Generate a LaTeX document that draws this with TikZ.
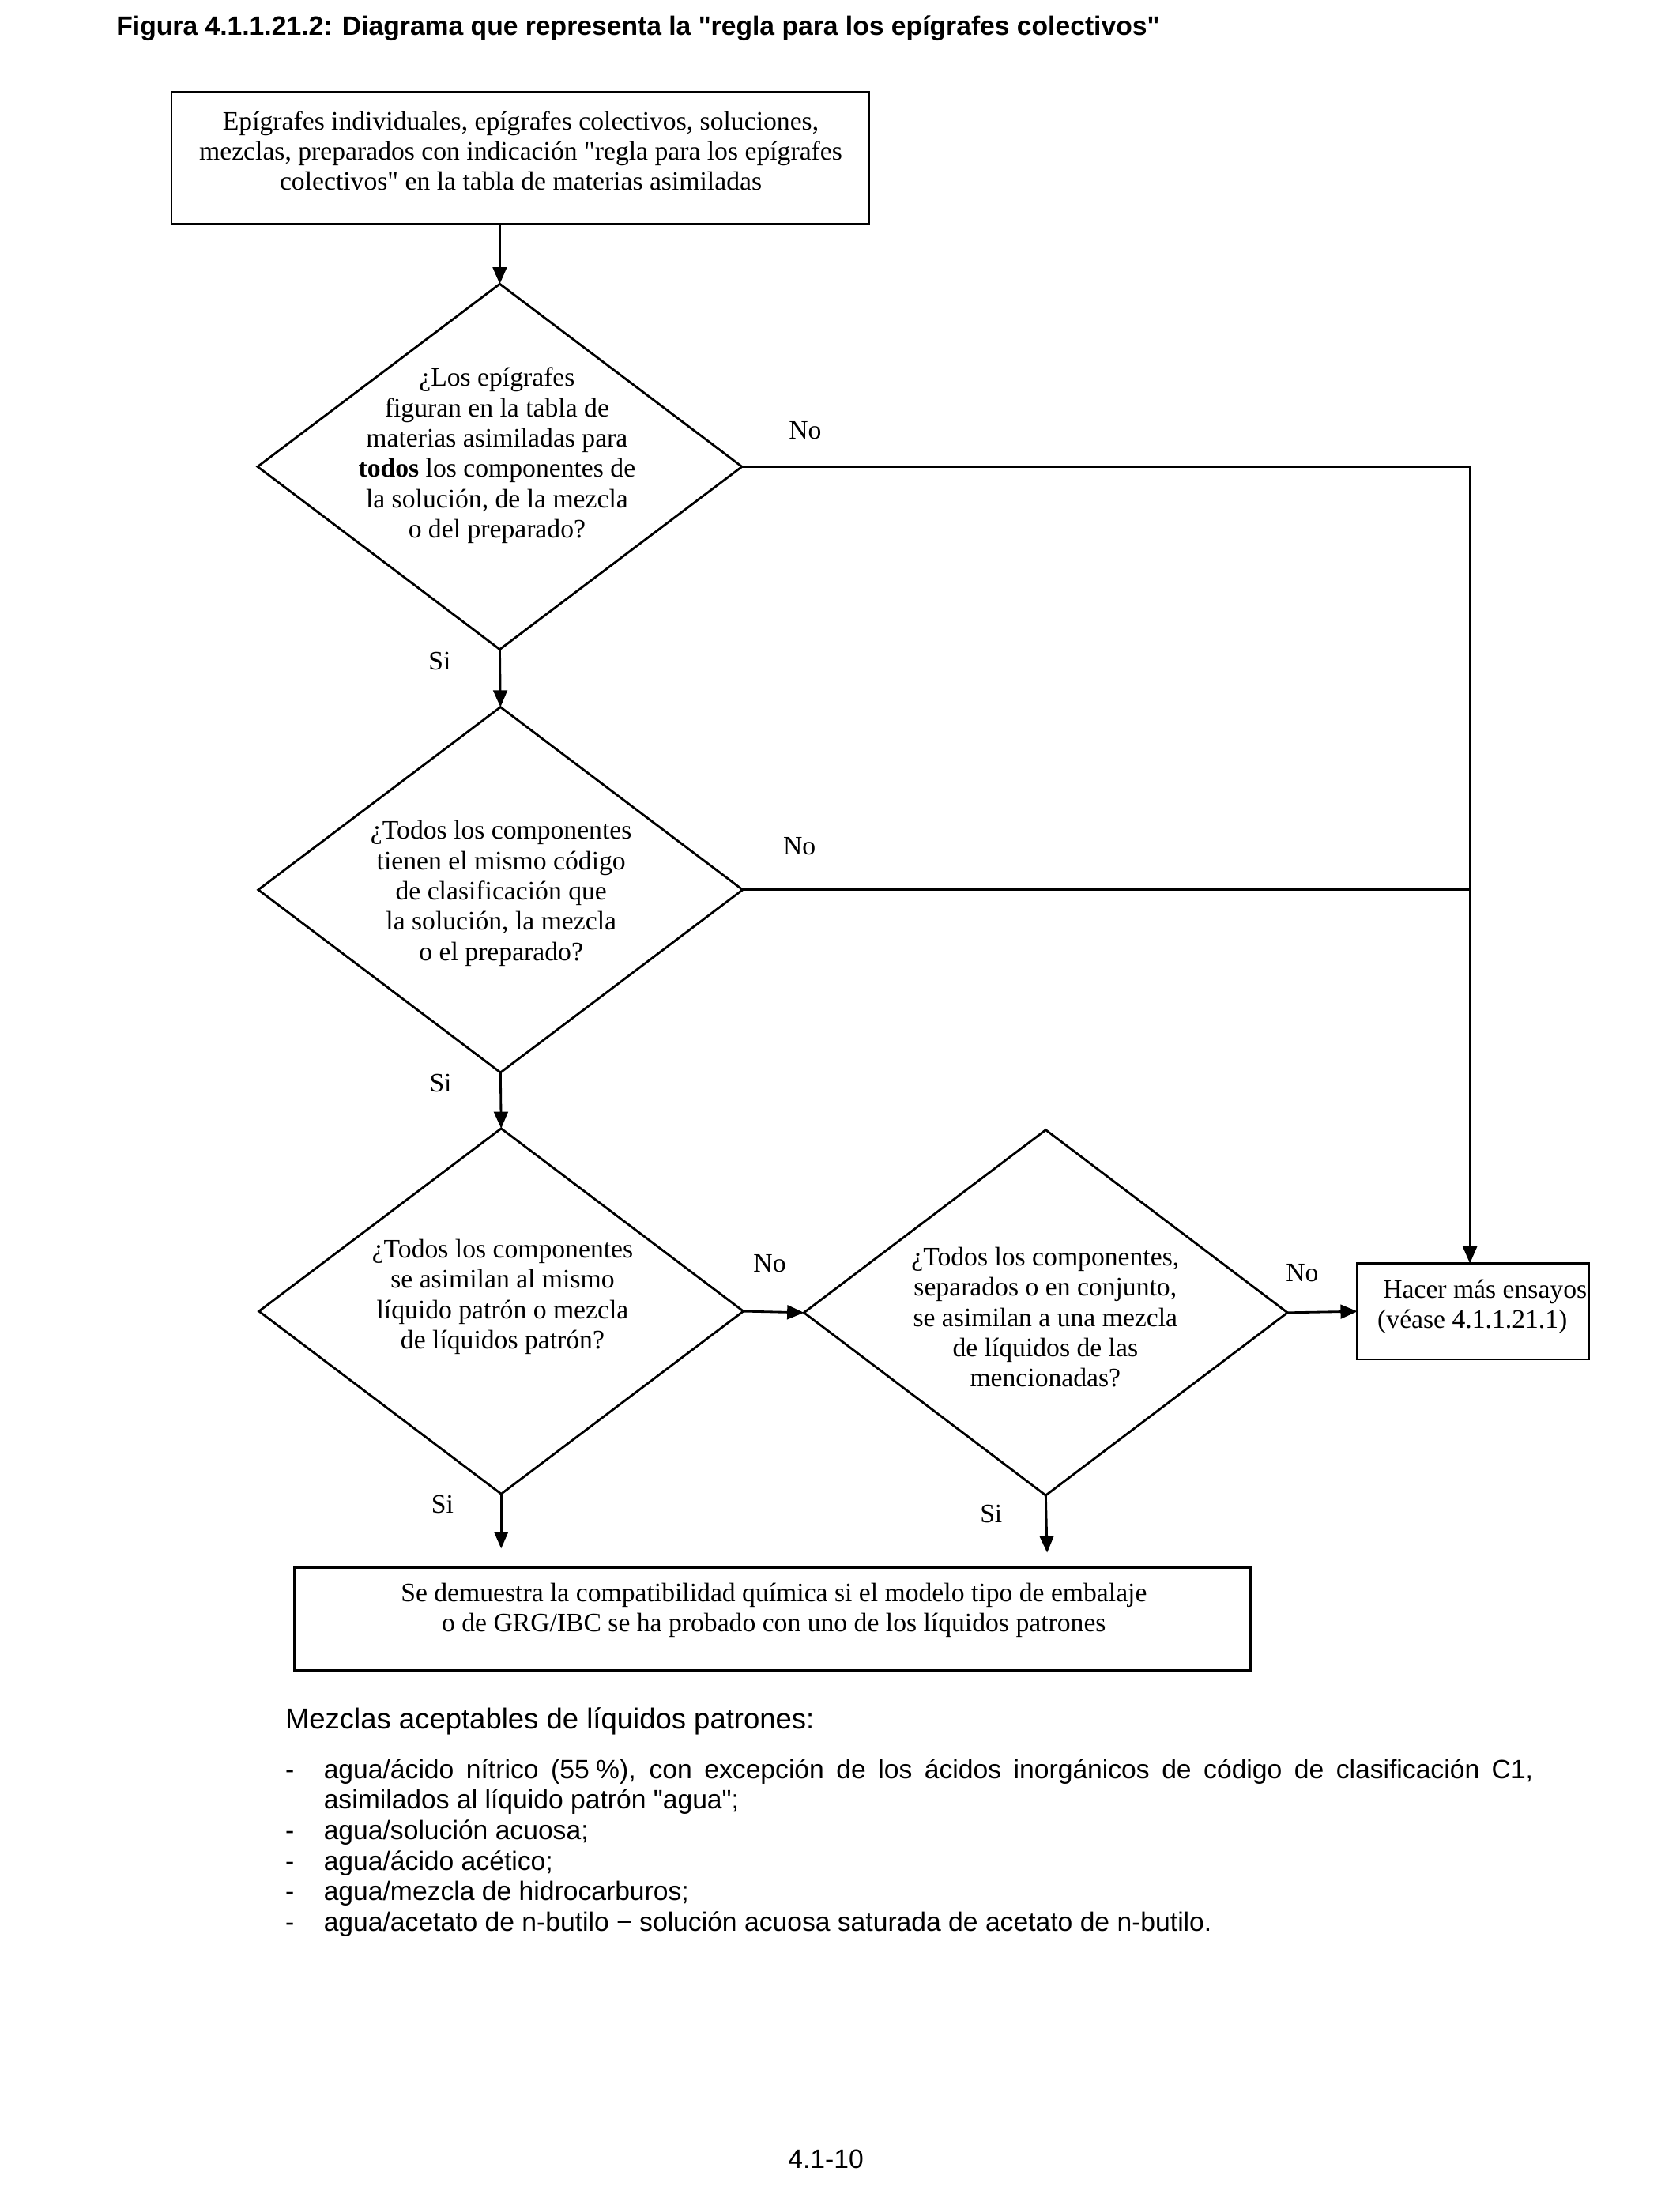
\documentclass[tikz,border=0pt]{standalone}
\usepackage{fontspec}
\setmainfont{Liberation Serif}
\newfontfamily\timesf{Liberation Serif}
\newfontfamily\arialf{Liberation Sans}
\usetikzlibrary{shapes.geometric,arrows.meta}
\begin{document}
\begin{tikzpicture}[x=0.5pt,y=-0.5pt, line width=0.8pt,
  dia/.style={draw, shape=diamond, inner sep=0pt, outer sep=0pt, minimum width=173pt, minimum height=130.5pt},
  boxn/.style={draw, rectangle, inner sep=0pt, outer sep=0pt},
  ttext/.style={font=\timesf\fontsize{9.5}{10.82}\selectfont, align=center, inner sep=0pt},
  lbl/.style={font=\timesf\fontsize{9.5}{10.82}\selectfont, inner sep=0pt, anchor=base west},
  arr/.style={-{Triangle[length=6pt,width=5pt]}},
  ltext/.style={font=\arialf\fontsize{9.5}{11}\selectfont, inner sep=0pt, anchor=base west}]

\useasboundingbox (0,0) rectangle (1200,1567);

% title
\node[anchor=base west, inner sep=0pt, font=\arialf\bfseries\fontsize{9.5}{11}\selectfont] (title) at (82.4,25.4)
  {Figura 4.1.1.21.2: Diagrama que representa la "regla para los epígrafes colectivos"};

% top box
\node[boxn, minimum width=249.2pt, minimum height=47pt] (b1) at (371.7,113) {};
\node[ttext] (b1t) at (372,107.8) {Epígrafes individuales, epígrafes colectivos, soluciones,\\mezclas, preparados con indicación "regla para los epígrafes\\colectivos" en la tabla de materias asimiladas};

% diamonds
\node[dia] (d1) at (357,333.3) {};
\node[ttext] (d1t) at (355,325.3) {¿Los epígrafes\\figuran en la tabla de\\materias asimiladas para\\\textbf{todos} los componentes de\\la solución, de la mezcla\\o del preparado?};

\node[dia] (d2) at (357.5,635.5) {};
\node[ttext] (d2t) at (358,638.1) {¿Todos los componentes\\tienen el mismo código\\de clasificación que\\la solución, la mezcla\\o el preparado?};

\node[dia] (d3) at (358,936.5) {};
\node[ttext] (d3t) at (359,926.2) {¿Todos los componentes\\se asimilan al mismo\\líquido patrón o mezcla\\de líquidos patrón?};

\node[dia, minimum width=172.7pt] (d4) at (747,937.5) {};
\node[ttext] (d4t) at (746.7,940.8) {¿Todos los componentes,\\separados o en conjunto,\\se asimilan a una mezcla\\de líquidos de las\\mencionadas?};

% right box
\node[boxn, minimum width=82.6pt, minimum height=34.3pt] (hac) at (1052.2,936.6) {};
\node[ttext, align=left, anchor=west] (hact) at (983.2,933.3) {\hspace*{2pt}Hacer más ensayos\\(véase 4.1.1.21.1)};

% bottom box
\node[boxn, minimum width=341.5pt, minimum height=36.7pt] (b2) at (551.75,1156.4) {};
\node[ttext] (b2t) at (552.8,1150) {Se demuestra la compatibilidad química si el modelo tipo de embalaje\\o de GRG/IBC se ha probado con uno de los líquidos patrones};

% connectors
\coordinate (c1) at (1050,333.3);
\coordinate (e3) at (358,1106);
\coordinate (e4) at (748,1109);
\draw[arr] (b1.south -| d1.north) -- (d1.north);
\draw[arr] (d1.south) -- (d2.north);
\draw[arr] (d2.south) -- (d3.north);
\draw (d1.east) -- (c1);
\draw[arr] (c1) -- (c1 |- hac.north);
\draw (d2.east) -- (c1 |- d2.east);
\draw[arr] (d3.east) -- (d4.west);
\draw[arr] (d4.east) -- (hac.west);
\draw[arr] (d3.south) -- (e3);
\draw[arr] (d4.south) -- (e4);

% labels
\node[lbl] (no1) at (562.7,313.3) {No};
\node[lbl] (no2) at (558.7,610.5) {No};
\node[lbl] (no3) at (537.4,908.6) {No};
\node[lbl] (no4) at (917.8,915.5) {No};
\node[lbl] (si1) at (305.4,478.5) {Si};
\node[lbl] (si2) at (306,779.9) {Si};
\node[lbl] (si3) at (307.3,1080.7) {Si};
\node[lbl] (si4) at (699.3,1087.2) {Si};

% text below
\node[ltext, font=\arialf\fontsize{10.3}{12}\selectfont] (head) at (203,1234.6) {Mezclas aceptables de líquidos patrones:};

\node[ltext] (m1) at (203,1270.2) {-};
\node[ltext] (l1) at (230.5,1270.2) {\makebox[432pt][s]{agua/ácido nítrico (55\hspace{0.25em}\%), con excepción de los ácidos inorgánicos de código de clasificación C1,}};
\node[ltext] (l1b) at (230.5,1292) {asimilados al líquido patrón "agua";};
\node[ltext] (m2) at (203,1313.8) {-};
\node[ltext] (l2) at (230.5,1313.8) {agua/solución acuosa;};
\node[ltext] (m3) at (203,1335.6) {-};
\node[ltext] (l3) at (230.5,1335.6) {agua/ácido acético;};
\node[ltext] (m4) at (203,1357.4) {-};
\node[ltext] (l4) at (230.5,1357.4) {agua/mezcla de hidrocarburos;};
\node[ltext] (m5) at (203,1379.2) {-};
\node[ltext] (l5) at (230.5,1379.2) {agua/acetato de n-butilo − solución acuosa saturada de acetato de n-butilo.};

% page number
\node[ltext] (pg) at (562.2,1548.8) {4.1-10};
\end{tikzpicture}
\end{document}
